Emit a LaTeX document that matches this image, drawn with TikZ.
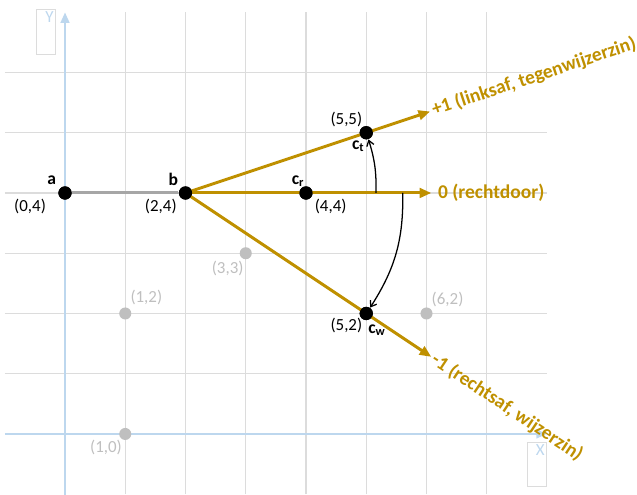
\documentclass[tikz,border=0pt]{standalone}
\usepackage{fontspec}
\setmainfont{Carlito}
\usetikzlibrary{calc, arrows.meta}

\definecolor{gold}{HTML}{BF9000}
\definecolor{gridgray}{HTML}{DCDCDC}
\definecolor{axisblue}{HTML}{BDD7EE}
\definecolor{ghost}{HTML}{BFBFBF}
\definecolor{roadgray}{HTML}{A6A6A6}

\begin{document}
\begin{tikzpicture}[
  dot/.style={circle, fill=black, inner sep=0pt, minimum size=2.2mm},
  ghostdot/.style={circle, fill=ghost, inner sep=0pt, minimum size=2mm},
  xy/.style={font=\fontsize{8}{9.6}\selectfont, inner sep=0pt},
  ptname/.style={font=\fontsize{8.3}{10}\selectfont\bfseries, inner sep=0pt},
  route/.style={gold, line width=1.4pt, -{Triangle[length=5.5pt, width=4.5pt]}},
  routetext/.style={gold, font=\fontsize{9.2}{11}\selectfont\bfseries, anchor=west, inner sep=1pt},
  turnarc/.style={black, line width=0.6pt, -{Straight Barb[length=2.5pt, width=3.5pt]}},
  axisline/.style={axisblue, line width=1.3pt},
  axisbox/.style={draw=gridgray, line width=0.4pt, inner sep=0pt, minimum width=0.32cm, minimum height=0.74cm, anchor=north west},
  axistext/.style={axisblue, font=\fontsize{8}{9.6}\selectfont, anchor=north east, inner sep=1pt}]
  \useasboundingbox (-1.079,-1.012) rectangle (9.494,7.203);

  % grid
  \foreach \i in {1,...,7}
    \draw[gridgray, line width=0.5pt] (\i,-1) -- (\i,7);
  \foreach \j in {1,...,6}
    \draw[gridgray, line width=0.5pt] (-1,\j) -- (8,\j);

  % axes
  \draw[axisline, -{Triangle[length=5pt, width=4pt]}] (-1,0) -- (8,0);
  \draw[axisline, -{Triangle[length=5pt, width=4pt]}] (0,-1.02) -- (0,7);
  \node[axisbox] (ybox) at (-0.48,7.05) {};
  \node[axistext] (ylab) at (ybox.north east) {Y};
  \node[axisbox] (xbox) at (7.67,-0.13) {};
  \node[axistext] (xlab) at (xbox.north east) {X};

  % points
  \node[dot] (a) at (0,4) {};
  \node[dot] (b) at (2,4) {};
  \node[dot] (cr) at (4,4) {};
  \node[dot] (ct) at (5,5) {};
  \node[dot] (cw) at (5,2) {};

  \coordinate (tipT) at (6.06,5.353);
  \coordinate (tipR) at (6.08,4);
  \coordinate (tipW) at (6.08,1.28);

  % routes
  \draw[roadgray, line width=1.4pt] (a) -- (b);
  \draw[route] (b.center) -- (tipT);
  \draw[route] (b.center) -- (tipR);
  \draw[route] (b.center) -- (tipW);

  \node[routetext, rotate=18.43] (lt) at (tipT) {+1 (linksaf, tegenwijzerzin)};
  \node[routetext] (lr) at ([xshift=2pt]tipR) {0 (rechtdoor)};
  \node[routetext, rotate=-33.69] (lw) at (tipW) {-1 (rechtsaf, wijzerzin)};

  % turning arcs
  \coordinate (arcT) at (5.162,4);
  \coordinate (arcW) at (5.606,4);
  \draw[turnarc] (arcT) to[bend right=9.2] (ct);
  \draw[turnarc] (arcW) to[bend left=16.8] (cw);

  % redraw dots on top
  \foreach \p in {a,b,cr,ct,cw}
    \fill (\p) circle (1.1mm);

  % other cells
  \foreach \x/\y/\dx/\dy in {3/3/-0.3/-0.25, 1/2/0.35/0.27, 6/2/0.35/0.23, 1/0/-0.32/-0.23} {
    \node[ghostdot] (g\x\y) at (\x,\y) {};
    \node[xy, ghost] (lg\x\y) at ($(g\x\y)+(\dx,\dy)$) {(\x,\y)};
  }

  % labels
  \node[ptname] (na) at ($(a)+(-0.22,0.22)$) {a};
  \node[xy] (la) at ($(a)+(-0.58,-0.22)$) {(0,4)};
  \node[ptname] (nb) at ($(b)+(-0.2,0.22)$) {b};
  \node[xy] (lb) at ($(b)+(-0.41,-0.22)$) {(2,4)};
  \node[ptname] (ncr) at ($(cr)+(-0.13,0.19)$) {c\textsubscript{r}};
  \node[xy] (lcr) at ($(cr)+(0.41,-0.23)$) {(4,4)};
  \node[xy] (lct) at ($(ct)+(-0.33,0.22)$) {(5,5)};
  \node[ptname] (nct) at ($(ct)+(-0.13,-0.23)$) {c\textsubscript{t}};
  \node[xy] (lcw) at ($(cw)+(-0.33,-0.2)$) {(5,2)};
  \node[ptname] (ncw) at ($(cw)+(0.18,-0.28)$) {c\textsubscript{w}};
\end{tikzpicture}
\end{document}
